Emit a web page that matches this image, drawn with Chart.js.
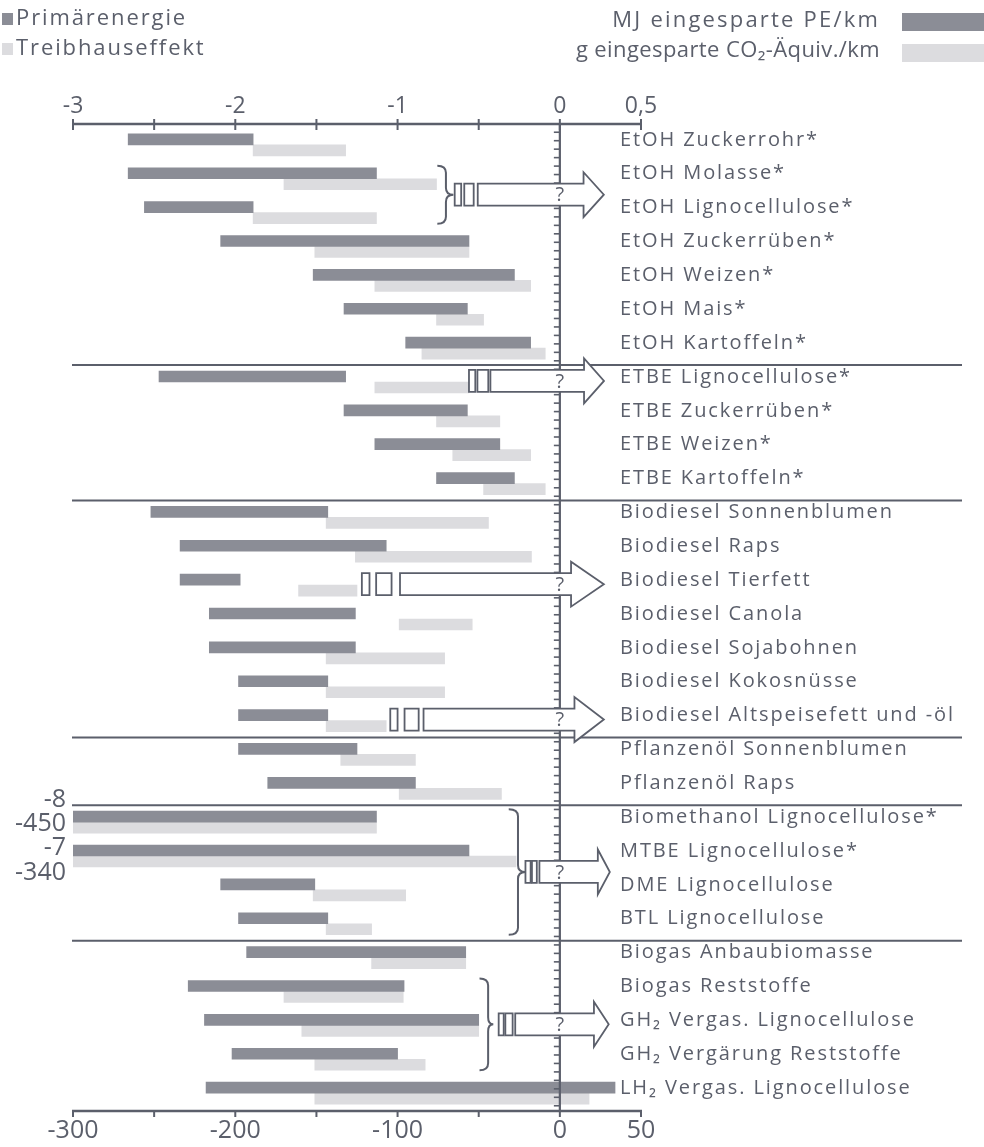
<!DOCTYPE html>
<html><head><meta charset="utf-8">
<script src="https://cdn.jsdelivr.net/npm/chart.js@4.4.1/dist/chart.umd.min.js"></script>
<style>html,body{margin:0;padding:0;background:#fff;} #wrap{width:984px;height:1147px;position:relative;}</style>
</head><body><div id="wrap"><canvas id="c"></canvas></div>
<script>
const categories = [
 'EtOH Zuckerrohr*','EtOH Molasse*','EtOH Lignocellulose*','EtOH Zuckerrüben*','EtOH Weizen*','EtOH Mais*','EtOH Kartoffeln*',
 'ETBE Lignocellulose*','ETBE Zuckerrüben*','ETBE Weizen*','ETBE Kartoffeln*',
 'Biodiesel Sonnenblumen','Biodiesel Raps','Biodiesel Tierfett','Biodiesel Canola','Biodiesel Sojabohnen','Biodiesel Kokosnüsse','Biodiesel Altspeisefett und -öl',
 'Pflanzenöl Sonnenblumen','Pflanzenöl Raps',
 'Biomethanol Lignocellulose*','MTBE Lignocellulose*','DME Lignocellulose','BTL Lignocellulose',
 'Biogas Anbaubiomasse','Biogas Reststoffe','GH₂ Vergas. Lignocellulose','GH₂ Vergärung Reststoffe','LH₂ Vergas. Lignocellulose'];

// MJ eingesparte Primärenergie / km (range)
const peMin = [-2.66,-2.66,-2.56,-2.09,-1.52,-1.33,-0.95, -2.47,-1.33,-1.14,-0.76, -2.52,-2.34,-2.34,-2.16,-2.16,-1.98,-1.98, -1.98,-1.80, -8,-7,-2.09,-1.98, -1.93,-2.29,-2.19,-2.02,-2.18];
const peMax = [-1.89,-1.13,-1.89,-0.56,-0.28,-0.57,-0.18, -1.32,-0.57,-0.37,-0.28, -1.43,-1.07,-1.97,-1.26,-1.26,-1.43,-1.43, -1.25,-0.89, -1.13,-0.56,-1.51,-1.43, -0.58,-0.96,-0.50,-1.00,0.34];
// g eingesparte CO2-Äquivalente / km (range)
const co2Min = [-189,-170,-189,-151,-114,-76,-85, -114,-76,-66,-47, -144,-126,-161,-99,-144,-144,-144, -135,-99, -450,-340,-152,-144, -116,-170,-159,-151,-151];
const co2Max = [-132,-76,-113,-56,-18,-47,-9, -56,-37,-18,-9, -44,-17.5,-125,-54,-71,-71,-107, -89,-36, -113,-27,-95,-116, -58,-96.5,-50,-83,18];

const topTickLabels = [-3,-2,-1,0,0.5];
const bottomTickLabels = [-300,-200,-100,0,50];
const groupStarts = [7,11,18,20,24];

const seriesNames = ['Primärenergie','Treibhauseffekt'];
const unitNames = ['MJ eingesparte PE/km','g eingesparte CO₂-Äquiv./km'];

// annotations (arrows with "?" and braces), in axis values / row indices
const arrowDefs = [
  {rows:[1,2], r1:[-0.648,-0.608], r2:[-0.589,-0.531], shaft:-0.506, back:0.146, tip:0.271},
  {rows:[7],   r1:[-0.560,-0.521], r2:[-0.508,-0.441], shaft:-0.428, back:0.149, tip:0.272},
  {rows:[13],  r1:[-1.220,-1.173], r2:[-1.132,-1.037], shaft:-0.985, back:0.069, tip:0.271},
  {rows:[17],  r1:[-1.045,-1.000], r2:[-0.957,-0.870], shaft:-0.840, back:0.090, tip:0.271},
  {rows:[20,23], r1:[-0.212,-0.180], r2:[-0.172,-0.142], shaft:-0.126, back:0.234, tip:0.308},
  {rows:[25,27], r1:[-0.377,-0.346], r2:[-0.336,-0.291], shaft:-0.275, back:0.210, tip:0.301}
];
const braceDefs = [
  {rows:[1,2], x0:-0.755, x1:-0.702, xp:-0.656},
  {rows:[20,23], x0:-0.315, x1:-0.258, xp:-0.212},
  {rows:[25,27], x0:-0.495, x1:-0.442, xp:-0.410}
];
const offLabels = [{row:20, s:'pe', dy:-22},{row:20, s:'co2', dy:2},{row:21, s:'pe', dy:-8},{row:21, s:'co2', dy:17}];

const INK = '#5b5f6b';
const DARK = '#8b8d96';
const LIGHT = '#dcdcdf';
const FONT = "'Open Sans', 'Noto Sans', sans-serif";

function seg(ctx,a,b,c,d){ctx.beginPath();ctx.moveTo(a,b);ctx.lineTo(c,d);ctx.stroke();}

const overlay = {
  id:'overlay',
  beforeUpdate(chart){ chart.ctx.letterSpacing='0px'; },
  beforeDraw(chart){ chart.ctx.letterSpacing='0px'; },
  afterDatasetsDraw(chart){
    const ctx=chart.ctx, xs=chart.scales.x, x2=chart.scales.x2, ys=chart.scales.y, ca=chart.chartArea;
    const rowY = i => ys.getPixelForValue(i);
    const rowH = rowY(1)-rowY(0);
    const xl = xs.getPixelForValue(-3), xr = xs.getPixelForValue(0.5);
    const topY = ca.top-4, botY = ca.bottom+1;
    ctx.save();
    ctx.strokeStyle=INK; ctx.fillStyle=INK; ctx.lineCap='butt';
    ctx.lineWidth=2.6; seg(ctx,xl-1,topY,xr+1,topY);
    ctx.lineWidth=2;
    for(let v=-3; v<=0.5001; v+=0.5){const p=xs.getPixelForValue(v); seg(ctx,p,topY-5,p,topY+6);}
    ctx.lineWidth=2.6; seg(ctx,xl-1,botY,xr+1,botY);
    ctx.lineWidth=2;
    for(let v=-300; v<=50.01; v+=50){const p=x2.getPixelForValue(v); seg(ctx,p,botY,p,botY+6);}
    ctx.lineWidth=2;
    groupStarts.forEach(i=>{const y=(rowY(i-1)+rowY(i))/2; seg(ctx,xl-1,y,962,y);});
    const zx = xs.getPixelForValue(0);
    ctx.lineWidth=2.2; seg(ctx,zx,topY,zx,botY);
    ctx.lineWidth=1.6;
    for(let y=ca.top+rowH/8; y<ca.bottom; y+=rowH/4){ seg(ctx,zx-6,y,zx,y); }
    ctx.lineWidth=2;
    braceDefs.forEach(b=>{
      const yT=rowY(b.rows[0])-13, yB=rowY(b.rows[1])+11, ym=(yT+yB)/2;
      const X0=xs.getPixelForValue(b.x0), X1=xs.getPixelForValue(b.x1), XP=xs.getPixelForValue(b.xp);
      const r=7;
      ctx.beginPath();
      ctx.moveTo(X0,yT); ctx.quadraticCurveTo(X1,yT,X1,yT+r);
      ctx.lineTo(X1,ym-r); ctx.quadraticCurveTo(X1,ym,XP,ym);
      ctx.quadraticCurveTo(X1,ym,X1,ym+r); ctx.lineTo(X1,yB-r);
      ctx.quadraticCurveTo(X1,yB,X0,yB);
      ctx.stroke();
    });
    arrowDefs.forEach(a=>{
      const cy = (rowY(a.rows[0])+rowY(a.rows[a.rows.length-1]))/2 - 1;
      const h=11, H=22.5;
      ctx.lineWidth=1.8; ctx.fillStyle='#fff';
      [a.r1,a.r2].forEach(r=>{
        const p0=xs.getPixelForValue(r[0]), p1=xs.getPixelForValue(r[1]);
        ctx.beginPath(); ctx.rect(p0,cy-h,p1-p0,2*h); ctx.fill(); ctx.stroke();
      });
      const s=xs.getPixelForValue(a.shaft), bk=xs.getPixelForValue(a.back), tp=xs.getPixelForValue(a.tip);
      ctx.beginPath();
      ctx.moveTo(s,cy-h); ctx.lineTo(bk,cy-h); ctx.lineTo(bk,cy-H); ctx.lineTo(tp,cy);
      ctx.lineTo(bk,cy+H); ctx.lineTo(bk,cy+h); ctx.lineTo(s,cy+h); ctx.closePath();
      ctx.fill(); ctx.stroke();
      ctx.fillStyle=INK; ctx.font="20px "+FONT; ctx.textAlign='center'; ctx.textBaseline='middle';
      ctx.fillText('?', zx, cy+1);
    });
    ctx.fillStyle=INK; ctx.font="25px "+FONT; ctx.textAlign='right'; ctx.textBaseline='middle';
    offLabels.forEach(o=>{
      const v = o.s==='pe' ? peMin[o.row] : co2Min[o.row];
      ctx.fillText(String(v), 66, rowY(o.row)+o.dy);
    });
    ctx.restore();
    chart.ctx.letterSpacing='1.9px';
  },
  afterDraw(chart){
    const ctx=chart.ctx;
    ctx.save();
    ctx.font="22px "+FONT; ctx.textBaseline='middle';
    ctx.fillStyle=DARK; ctx.fillRect(2,13,11,12);
    ctx.fillStyle=LIGHT; ctx.fillRect(2,43,11,12);
    ctx.fillStyle=INK; ctx.textAlign='left';
    ctx.letterSpacing='1.9px';
    ctx.fillText(seriesNames[0],16,19);
    ctx.fillText(seriesNames[1],16,49);
    ctx.fillStyle=DARK; ctx.fillRect(902,13,82,18);
    ctx.fillStyle=LIGHT; ctx.fillRect(902,44,82,18);
    ctx.fillStyle=INK; ctx.textAlign='right';
    ctx.letterSpacing='2.2px';
    ctx.fillText(unitNames[0],880,21);
    ctx.letterSpacing='0.4px';
    ctx.fillText(unitNames[1],880,51);
    ctx.restore();
    chart.ctx.letterSpacing='0px';
  }
};

const fmt = v => String(v).replace('.',',');

new Chart(document.getElementById('c'), {
  type:'bar',
  data:{
    labels:categories,
    datasets:[
      {label:seriesNames[0], data:peMin.map((v,i)=>[v,peMax[i]]), xAxisID:'x', backgroundColor:DARK, barThickness:11, clip:0, borderWidth:0},
      {label:seriesNames[1], data:co2Min.map((v,i)=>[v,co2Max[i]]), xAxisID:'x2', backgroundColor:LIGHT, barThickness:11, clip:0, borderWidth:0}
    ]
  },
  options:{
    indexAxis:'y', responsive:true, maintainAspectRatio:false, animation:false,
    layout:{padding:{left:73,right:0,top:0,bottom:0}},
    plugins:{legend:{display:false}, tooltip:{enabled:false}},
    scales:{
      x:{type:'linear', position:'top', min:-3, max:0.5,
         grid:{display:false, drawTicks:false}, border:{display:false},
         afterFit(s){ s.height=128; },
         afterBuildTicks(s){ s.ticks = topTickLabels.map(v=>({value:v})); },
         ticks:{color:INK, padding:8, font:{family:FONT, size:23}, maxRotation:0, autoSkip:false, callback:v=>fmt(v)}},
      x2:{type:'linear', position:'bottom', min:-300, max:50,
         grid:{display:false, drawTicks:false}, border:{display:false},
         afterFit(s){ s.height=37; },
         afterBuildTicks(s){ s.ticks = bottomTickLabels.map(v=>({value:v})); },
         ticks:{color:INK, padding:6, font:{family:FONT, size:25}, maxRotation:0, autoSkip:false, callback:v=>fmt(v)}},
      y:{type:'category', position:'right', offset:true,
         grid:{display:false, drawTicks:false}, border:{display:false},
         afterFit(s){ s.width=343; s._computeLabelArea = () => null; },
         ticks:{color:INK, padding:-21, labelOffset:-5, z:1, autoSkip:false, crossAlign:'near', font:{family:FONT, size:20}}}
    }
  },
  plugins:[overlay]
});
</script></body></html>
